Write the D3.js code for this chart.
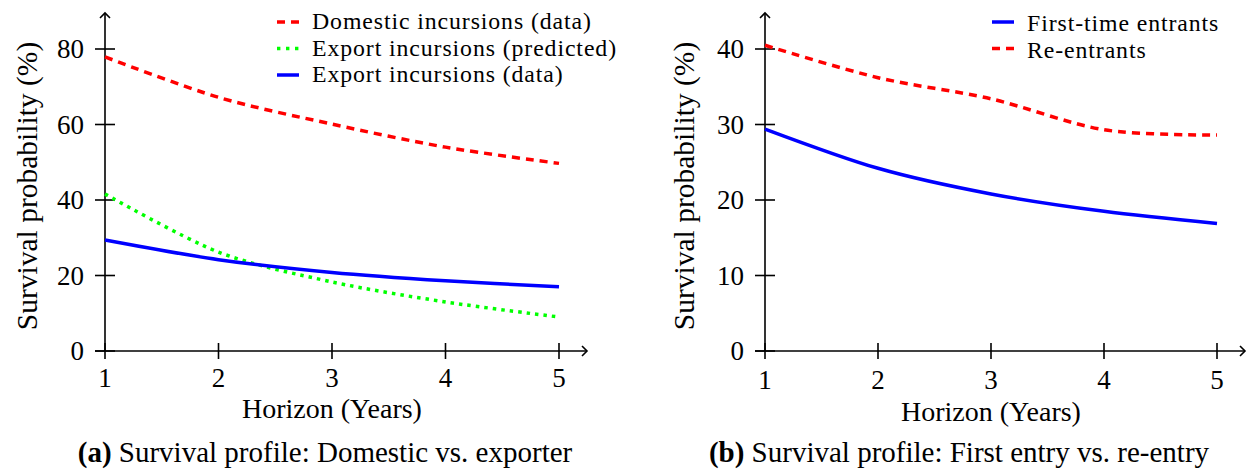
<!DOCTYPE html>
<html>
<head>
<meta charset="utf-8">
<script src="https://cdn.jsdelivr.net/npm/d3@7"></script>
<style>
  body { margin: 0; background: #fff; }
  svg { display: block; }
</style>
</head>
<body>
<div id="chart"></div>
<script>
// Survival profiles, two panels
const years = [1, 2, 3, 4, 5];

// panel (a)
const domesticData = [77.9, 67.2, 60.1, 54, 49.7];
const exportPredicted = [41.6, 26.2, 18.3, 13, 9];
const exportData = [29.4, 24.2, 20.8, 18.6, 17];
const ticksA = [0, 20, 40, 60, 80];

// panel (b)
const firstTime = [29.4, 24.2, 20.8, 18.5, 16.9];
const reEntrants = [40.5, 36.2, 33.4, 29.3, 28.6];
const ticksB = [0, 10, 20, 30, 40];

const W = 1247, H = 471;
const FONT = "'Liberation Serif', 'Times New Roman', serif";
const svg = d3.select('#chart').append('svg')
  .attr('width', W).attr('height', H)
  .attr('font-family', FONT);

function panel(opts) {
  const x = d3.scaleLinear().domain([1, 5]).range([opts.x0, opts.x1]);
  const y = d3.scaleLinear().domain([0, opts.yMax]).range([351, 49]);
  const g = svg.append('g');

  // axis lines + arrow heads
  const ax = g.append('g').attr('stroke', '#000').attr('stroke-width', 1.6).attr('fill', 'none');
  ax.append('line').attr('x1', opts.x0 - 10).attr('x2', opts.xEnd).attr('y1', y(0)).attr('y2', y(0));
  ax.append('line').attr('x1', opts.x0).attr('x2', opts.x0).attr('y1', y(0)).attr('y2', 13);
  ax.append('path').attr('d', `M${opts.xEnd - 5},${y(0) - 5} L${opts.xEnd},${y(0)} L${opts.xEnd - 5},${y(0) + 5}`);
  ax.append('path').attr('d', `M${opts.x0 - 5},18 L${opts.x0},13 L${opts.x0 + 5},18`);

  // ticks
  opts.ticks.forEach(t => {
    ax.append('line').attr('x1', opts.x0 - 10).attr('x2', opts.x0 + 10).attr('y1', y(t)).attr('y2', y(t));
    g.append('text').attr('x', opts.x0 - 21).attr('y', y(t) + 9)
      .attr('text-anchor', 'end').style('font-size', '27px').text(t);
  });
  years.forEach(v => {
    ax.append('line').attr('x1', x(v)).attr('x2', x(v)).attr('y1', y(0) - 8).attr('y2', y(0) + 8);
    g.append('text').attr('x', x(v)).attr('y', opts.xTickY)
      .attr('text-anchor', 'middle').style('font-size', '27px').text(v);
  });

  // axis labels
  g.append('text')
    .attr('transform', `translate(${opts.yLabX},186) rotate(-90)`)
    .attr('text-anchor', 'middle').style('font-size', '29.5px').text('Survival probability (%)');
  g.append('text').attr('x', (opts.x0 + opts.x1) / 2).attr('y', opts.xLabY)
    .attr('text-anchor', 'middle').style('font-size', '28px').text('Horizon (Years)');

  // series
  const line = d3.line().x((d, i) => x(years[i])).y(d => y(d)).curve(d3.curveCardinal.tension(0.1));
  opts.series.forEach(s => {
    g.append('path').datum(s.values).attr('d', line)
      .attr('fill', 'none').attr('stroke', s.color).attr('stroke-width', 3.5)
      .attr('stroke-dasharray', s.dash);
  });

  // legend
  opts.legend.forEach((s, i) => {
    const ly = opts.legY + i * 26.5;
    g.append('line').attr('x1', opts.legX).attr('x2', opts.legX + 22).attr('y1', ly).attr('y2', ly)
      .attr('stroke', s.color).attr('stroke-width', 3.5).attr('stroke-dasharray', s.legDash || s.dash);
    g.append('text').attr('x', opts.legX + 35).attr('y', ly + opts.legOff)
      .style('font-size', '23.8px').style('letter-spacing', '0.9px').text(s.name);
  });

  // caption
  const cap = g.append('text').attr('x', opts.capX).attr('y', 462)
    .attr('text-anchor', 'middle').style('font-size', '29px');
  cap.append('tspan').style('font-weight', 'bold').text(opts.capTag);
  cap.append('tspan').text(' ' + opts.caption);
}

const domestic = { name: 'Domestic incursions (data)', values: domesticData, color: '#ff0000', dash: '8,6' };
const predicted = { name: 'Export incursions (predicted)', values: exportPredicted, color: '#00ff00', dash: '3.5,5', legDash: '3.4,5.6' };
const exported = { name: 'Export incursions (data)', values: exportData, color: '#0000ff', dash: null };

panel({
  x0: 105, x1: 559, xEnd: 587, yMax: 80, ticks: ticksA,
  xTickY: 387, xLabY: 418, yLabX: 37,
  legX: 277, legY: 22, legOff: 7,
  capX: 325, capTag: '(a)', caption: 'Survival profile: Domestic vs. exporter',
  series: [domestic, predicted, exported],
  legend: [domestic, predicted, exported]
});

const first = { name: 'First-time entrants', values: firstTime, color: '#0000ff', dash: null };
const reentry = { name: 'Re-entrants', values: reEntrants, color: '#ff0000', dash: '8,6' };

panel({
  x0: 765, x1: 1217, xEnd: 1245, yMax: 40, ticks: ticksB,
  xTickY: 389, xLabY: 421, yLabX: 694,
  legX: 992, legY: 22, legOff: 9,
  capX: 959, capTag: '(b)', caption: 'Survival profile: First entry vs. re-entry',
  series: [reentry, first],
  legend: [first, reentry]
});
</script>
</body>
</html>
